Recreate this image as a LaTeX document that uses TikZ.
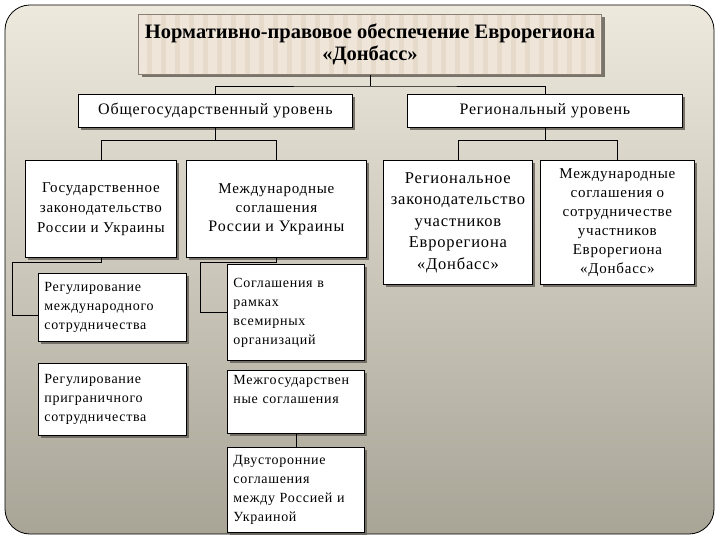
\documentclass[tikz,border=0pt]{standalone}
\usepackage{fontspec}
\setmainfont{Liberation Serif}[LetterSpace=5]
\newfontfamily\titlefont{Liberation Serif}
\usetikzlibrary{shadows}
\definecolor{bgtop}{HTML}{EEE9DD}
\definecolor{bgbot}{HTML}{A8A597}
\definecolor{titlefill}{HTML}{EFE5D9}
\definecolor{titlestripe}{HTML}{E6DACB}
\definecolor{titledraw}{HTML}{8A7F72}
\definecolor{shadowc}{HTML}{66625A}
\begin{document}
\begin{tikzpicture}[x=1pt,y=-1pt,
  box/.style={draw=black, line width=0.8pt, fill=white, inner sep=3pt,
    drop shadow={shadow xshift=3pt, shadow yshift=-3pt, fill=shadowc, opacity=0.85},
    anchor=north west, align=center},
  leftbox/.style={box, align=left, inner xsep=6pt, font=\fontsize{14}{19}\selectfont},
  titlebox/.style={box, draw=titledraw, fill=titlefill, line width=1pt},
  conn/.style={draw=black, line width=0.7pt}]
\useasboundingbox (0,0) rectangle (720,540);
\shade[top color=bgtop, bottom color=bgbot, rounded corners=25pt, draw=black, line width=0.8pt] (5,5) rectangle (714,534);

\node[titlebox, minimum width=463pt, minimum height=60pt,
  font=\titlefont\fontsize{20.5}{22}\selectfont\bfseries,
  path picture={\foreach \sx in {8,22,...,460}{\fill[titlestripe] ([xshift=\sx pt]path picture bounding box.south west) rectangle ++(5pt,60pt);}}] (title) at (138,14)
  {Нормативно-правовое обеспечение Еврорегиона\\«Донбасс»};

\node[box, minimum width=274pt, minimum height=33pt, font=\fontsize{16}{18}\selectfont] (obsh) at (78,94) {Общегосударственный уровень};
\node[box, minimum width=275pt, minimum height=33pt, font=\fontsize{16}{18}\selectfont] (reg) at (407,94) {Региональный уровень};

\node[box, minimum width=151pt, minimum height=97pt, font=\fontsize{15}{20}\selectfont] (gos) at (25,160) {Государственное\\законодательство\\России и Украины};
\node[box, minimum width=180pt, minimum height=97pt, font=\fontsize{15}{19}\selectfont] (mezh) at (186,160) {Международные\\соглашения\\{\fontsize{16}{19}\selectfont России и Украины}};
\node[box, minimum width=149pt, minimum height=124pt, font=\fontsize{16.5}{21.5}\selectfont] (rzak) at (383,160) {Региональное\\законодательство\\участников\\Еврорегиона\\«Донбасс»};
\node[box, minimum width=154pt, minimum height=124pt, font=\fontsize{15}{19}\selectfont] (msotr) at (540,160) {Международные\\соглашения о\\сотрудничестве\\участников\\Еврорегиона\\«Донбасс»};

\node[leftbox, text width=136pt, minimum height=68pt] (rm) at (38,273) {Регулирование\\международного\\сотрудничества};
\node[leftbox, text width=136pt, minimum height=72pt] (rp) at (38,363) {Регулирование\\приграничного\\сотрудничества};

\node[leftbox, text width=125pt, minimum height=96pt] (sg) at (227,264) {Соглашения в\\рамках\\всемирных\\организаций};
\node[leftbox, text width=125pt, minimum height=63pt] (mg) at (227,370) {Межгосударствен\\ные соглашения\\\strut};
\node[leftbox, text width=125pt, minimum height=85pt] (dv) at (227,447) {Двусторонние\\соглашения\\между Россией и\\Украиной};

\coordinate (j1) at ([yshift=-11pt]title.south);
\coordinate (j2) at ([yshift=-13pt]obsh.south);
\coordinate (j3) at ([yshift=-13pt]reg.south);
\coordinate (b1) at (12,262);
\coordinate (b2) at (200,262);

\draw[conn] (title.south) -- (j1);
\draw[conn] (obsh.north) |- (j1) -| (reg.north);
\draw[conn] (obsh.south) -- (j2);
\draw[conn] (gos.north) |- (j2) -| (mezh.north);
\draw[conn] (reg.south) -- (j3);
\draw[conn] (rzak.north) |- (j3) -| (msotr.north);
\draw[conn] (gos.south) |- (b1) |- ([yshift=-8pt]rm.west);
\draw[conn] (mezh.south) |- (b2) |- (sg.west);
\draw[conn] (mg.south) -- (dv.north);
\end{tikzpicture}
\end{document}
